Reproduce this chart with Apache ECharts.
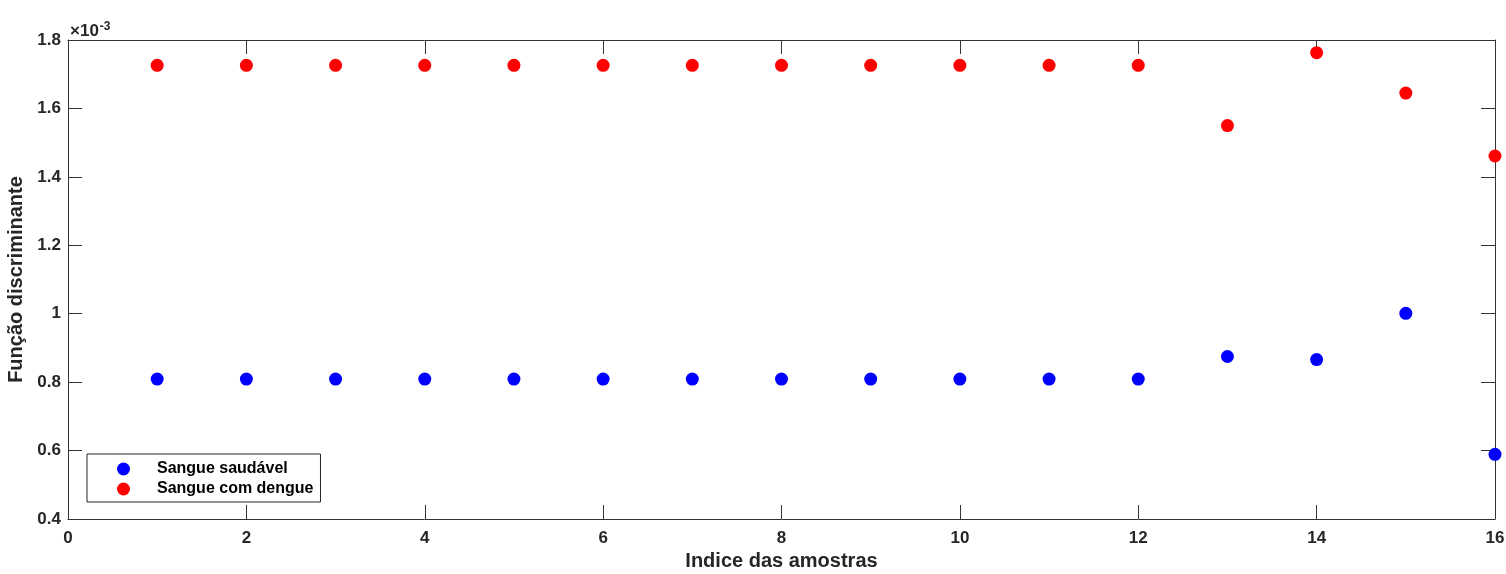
<!DOCTYPE html>
<html>
<head>
<meta charset="utf-8">
<script src="https://cdn.jsdelivr.net/npm/echarts@6/dist/echarts.min.js"></script>
<style>
  html, body { margin: 0; padding: 0; background: #fff; }
  #main { width: 1506px; height: 574px; }
</style>
</head>
<body>
<div id="main"></div>
<script>
// indices das amostras
var indices = [1, 2, 3, 4, 5, 6, 7, 8, 9, 10, 11, 12, 13, 14, 15, 16];
// função discriminante (x 10^-3)
var saudavel = [0.809, 0.809, 0.809, 0.809, 0.809, 0.809, 0.809, 0.809, 0.809, 0.809, 0.809, 0.809, 0.875, 0.866, 1.001, 0.589];
var dengue = [1.726, 1.726, 1.726, 1.726, 1.726, 1.726, 1.726, 1.726, 1.726, 1.726, 1.726, 1.726, 1.550, 1.763, 1.645, 1.461];

function pares(vals) {
  return indices.map(function (x, i) { return [x, vals[i]]; });
}

var axisCor = '#333333';
var textoCor = '#262626';
var fonte = '"Liberation Sans", Arial, sans-serif';

// eixo com ticks para dentro, estilo caixa
function eixo(extra) {
  var base = {
    axisLine: { show: true, onZero: false, lineStyle: { color: axisCor, width: 1 } },
    axisTick: { show: true, inside: true, length: 14, lineStyle: { color: axisCor } },
    splitLine: { show: false },
    axisLabel: { show: false }
  };
  return Object.assign(base, extra);
}

var rotulo = { color: textoCor, fontFamily: fonte, fontWeight: 'bold', fontSize: 17 };
var titulo = { color: textoCor, fontFamily: fonte, fontWeight: 'bold', fontSize: 20 };

var myChart = echarts.init(document.getElementById('main'));
myChart.setOption({
  animation: false,
  grid: { left: 68, right: 11, top: 40, bottom: 55, outerBoundsMode: 'none' },
  xAxis: [
    eixo({
      type: 'value', min: 0, max: 16, interval: 2, position: 'bottom',
      name: 'Indice das amostras', nameLocation: 'middle', nameGap: 29,
      nameTextStyle: titulo,
      axisLabel: Object.assign({ show: true, margin: 11 }, rotulo)
    }),
    eixo({ type: 'value', min: 0, max: 16, interval: 2, position: 'top' })
  ],
  yAxis: [
    eixo({
      type: 'value', min: 0.4, max: 1.8, interval: 0.2, position: 'left',
      name: 'Função discriminante', nameLocation: 'middle', nameGap: 30,
      nameTextStyle: titulo,
      axisLabel: Object.assign({ show: true, margin: 7 }, rotulo)
    }),
    eixo({ type: 'value', min: 0.4, max: 1.8, interval: 0.2, position: 'right' })
  ],
  legend: {
    orient: 'vertical',
    left: 87,
    top: 454,
    padding: [7, 7, 5, 30],
    itemWidth: 13,
    itemHeight: 13,
    itemGap: 4,
    borderColor: textoCor,
    borderWidth: 1,
    backgroundColor: '#fff',
    textStyle: { color: '#000', fontFamily: fonte, fontWeight: 'bold', fontSize: 16, padding: [0, 0, 0, 22], lineHeight: 16 },
    data: [
      { name: 'Sangue saudável', icon: 'circle' },
      { name: 'Sangue com dengue', icon: 'circle' }
    ]
  },
  graphic: [{
    type: 'text',
    left: 70,
    top: 21,
    style: {
      text: '×10{s|-3}',
      fill: textoCor,
      font: 'bold 17px ' + fonte,
      rich: { s: { fontSize: 12, fontWeight: 'bold', verticalAlign: 'top', fill: textoCor, padding: [0, 0, 9, 1] } }
    }
  }],
  series: [{
    name: 'Sangue saudável',
    type: 'scatter',
    symbol: 'circle',
    symbolSize: 13,
    clip: false,
    itemStyle: { color: '#0000ff', opacity: 1 },
    data: pares(saudavel)
  }, {
    name: 'Sangue com dengue',
    type: 'scatter',
    symbol: 'circle',
    symbolSize: 13,
    clip: false,
    itemStyle: { color: '#ff0000', opacity: 1 },
    data: pares(dengue)
  }]
});
</script>
</body>
</html>
